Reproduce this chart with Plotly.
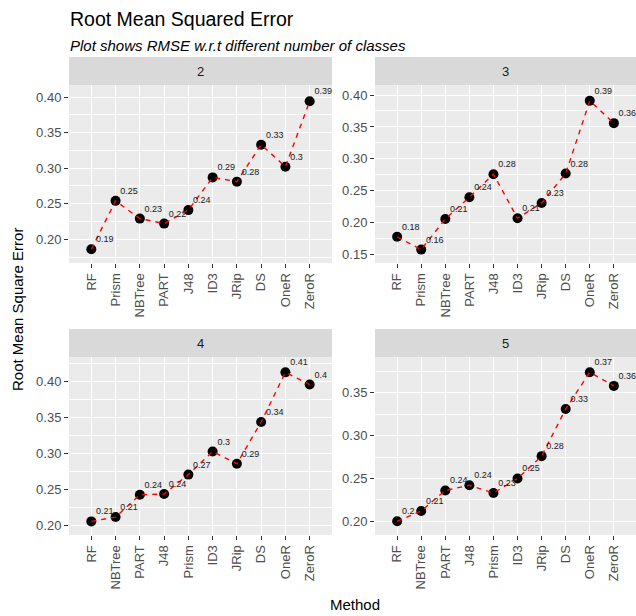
import plotly.graph_objects as go

# ---- data ----
panels = ["2", "3", "4", "5"]
methods_2 = ["RF", "Prism", "NBTree", "PART", "J48", "ID3", "JRip", "DS", "OneR", "ZeroR"]
rmse_2 = [0.186, 0.254, 0.229, 0.222, 0.241, 0.287, 0.281, 0.333, 0.302, 0.394]
methods_3 = ["RF", "Prism", "NBTree", "PART", "J48", "ID3", "JRip", "DS", "OneR", "ZeroR"]
rmse_3 = [0.178, 0.158, 0.206, 0.240, 0.276, 0.207, 0.231, 0.277, 0.391, 0.356]
methods_4 = ["RF", "NBTree", "PART", "J48", "Prism", "ID3", "JRip", "DS", "OneR", "ZeroR"]
rmse_4 = [0.206, 0.212, 0.243, 0.244, 0.271, 0.303, 0.286, 0.344, 0.413, 0.396]
methods_5 = ["RF", "NBTree", "PART", "J48", "Prism", "ID3", "JRip", "DS", "OneR", "ZeroR"]
rmse_5 = [0.200, 0.212, 0.236, 0.242, 0.233, 0.250, 0.276, 0.331, 0.374, 0.358]

methods = [methods_2, methods_3, methods_4, methods_5]
values = [rmse_2, rmse_3, rmse_4, rmse_5]

FONT = "Liberation Sans, Arial, Helvetica, sans-serif"


def lab(v):
    return f"{round(v, 2):g}"


fig = go.Figure()

for i, (m, v) in enumerate(zip(methods, values)):
    ax = "" if i == 0 else str(i + 1)
    xa, ya = "x" + ax, "y" + ax
    fig.add_trace(go.Scatter(x=m, y=v, mode="markers", xaxis=xa, yaxis=ya,
                             marker=dict(color="black", size=10), showlegend=False,
                             hoverinfo="skip"))
    fig.add_trace(go.Scatter(x=m, y=v, mode="lines", xaxis=xa, yaxis=ya,
                             line=dict(color="#ff0000", width=1.4, dash="5px,5px"),
                             showlegend=False, hoverinfo="skip"))
    fig.add_trace(go.Scatter(x=m, y=v, mode="markers+text", xaxis=xa, yaxis=ya,
                             text=[lab(t) for t in v], textposition="top right",
                             textfont=dict(size=9, color="#1a1a1a", family=FONT),
                             marker=dict(color="rgba(0,0,0,0)", size=6),
                             showlegend=False, hoverinfo="skip"))

W, H = 636, 616
L, R, T, B = 69, 0, 85, 81
pw = W - L - R
ph = H - T - B


def px_x(p):
    return (p - L) / pw


def px_y(p):
    return (H - B - p) / ph


col1 = [px_x(69), px_x(332)]
col2 = [px_x(375), px_x(636)]
row1 = [px_y(263), px_y(85)]
row2 = [px_y(535), px_y(357)]

yranges = [[0.1666, 0.4169], [0.137, 0.4157], [0.1871, 0.4343], [0.184, 0.3917]]
doms = [(col1, row1), (col2, row1), (col1, row2), (col2, row2)]

layout = dict(
    width=W, height=H,
    margin=dict(l=L, r=R, t=T, b=B, pad=0),
    paper_bgcolor="white", plot_bgcolor="#ebebeb",
    font=dict(family=FONT, color="black"),
    showlegend=False,
)

shapes = []
annotations = []
for i, ((xd, yd), yr) in enumerate(zip(doms, yranges)):
    suffix = "" if i == 0 else str(i + 1)
    layout["xaxis" + suffix] = dict(
        domain=xd, anchor="y" + suffix, type="category",
        range=[-0.92, 9.92], showgrid=True, gridcolor="white", gridwidth=1.1,
        zeroline=False, showline=False, ticks="outside", ticklen=4, tickwidth=1,
        tickcolor="#333333", tickangle=-90,
        tickfont=dict(size=13, color="#4d4d4d", family=FONT), fixedrange=True,
    )
    layout["yaxis" + suffix] = dict(
        domain=yd, anchor="x" + suffix, range=yr, tick0=0, dtick=0.05,
        tickformat=".2f", showgrid=True, gridcolor="white", gridwidth=1.1,
        zeroline=False, showline=False, ticks="outside", ticklen=4, tickwidth=1,
        tickcolor="#333333", tickfont=dict(size=13, color="#4d4d4d", family=FONT),
        minor=dict(tick0=0, dtick=0.025, showgrid=True, gridcolor="white",
                   gridwidth=0.55, ticks=""),
        fixedrange=True,
    )
    y_top = yd[1]
    strip_h = 28 / ph
    shapes.append(dict(type="rect", xref="paper", yref="paper",
                       x0=xd[0], x1=xd[1], y0=y_top, y1=y_top + strip_h,
                       fillcolor="#d9d9d9", line=dict(width=0), layer="below"))
    annotations.append(dict(text=panels[i], xref="paper", yref="paper",
                            x=(xd[0] + xd[1]) / 2, y=y_top + strip_h / 2,
                            xanchor="center", yanchor="middle", showarrow=False,
                            font=dict(size=13, color="#1a1a1a", family=FONT)))

annotations += [
    dict(text="Root Mean Squared Error", xref="paper", yref="paper",
         x=px_x(68), y=px_y(19), xanchor="left", yanchor="middle", showarrow=False,
         font=dict(size=19.5, color="black", family=FONT)),
    dict(text="<i>Plot shows RMSE w.r.t different number of classes</i>",
         xref="paper", yref="paper", x=px_x(68), y=px_y(45), xanchor="left",
         yanchor="middle", showarrow=False,
         font=dict(size=15, color="black", family=FONT)),
    dict(text="Root Mean Square Error", xref="paper", yref="paper",
         x=px_x(17), y=px_y(310), xanchor="center", yanchor="middle",
         textangle=-90, showarrow=False,
         font=dict(size=15, color="black", family=FONT)),
    dict(text="Method", xref="paper", yref="paper",
         x=px_x(355), y=px_y(604), xanchor="center", yanchor="middle",
         showarrow=False, font=dict(size=15, color="black", family=FONT)),
]

layout["shapes"] = shapes
layout["annotations"] = annotations
fig.update_layout(**layout)

fig.write_html("out.html")
